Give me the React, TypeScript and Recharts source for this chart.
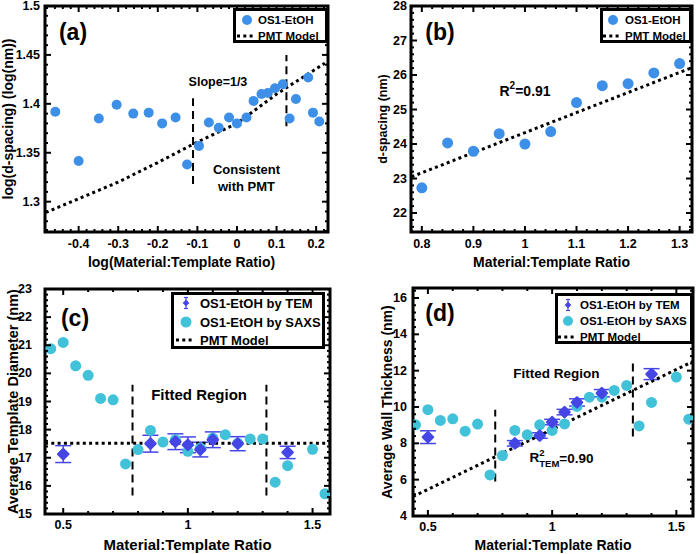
import React from "react";
import {
  ComposedChart,
  Scatter,
  XAxis,
  YAxis,
  ReferenceLine,
  ReferenceArea,
  ReferenceDot,
  ErrorBar,
} from "recharts";

const FONT = '"Liberation Sans", Arial, Helvetica, sans-serif';
const BLUE = "#3d8fe8";
const TEM = "#4646e6";
const SAXS = "#42c2d8";

// (a) log-log plot
const logRatioA = [-0.459, -0.4, -0.349, -0.304, -0.262, -0.223, -0.189, -0.155, -0.126, -0.096, -0.071, -0.046, -0.02, 0, 0.024, 0.042, 0.062, 0.078, 0.096, 0.116, 0.133, 0.149, 0.18, 0.192, 0.208];
const logSpacingA = [1.392, 1.3415, 1.385, 1.399, 1.39, 1.391, 1.38, 1.386, 1.338, 1.357, 1.381, 1.3755, 1.386, 1.38, 1.386, 1.403, 1.41, 1.411, 1.416, 1.42, 1.385, 1.405, 1.427, 1.391, 1.382];
const pmtLogRatioA = [-0.483, -0.4, -0.3, -0.2, -0.1, 0, 0.1, 0.222];
const pmtLogSpacingA = [1.289, 1.303, 1.32, 1.34, 1.361, 1.38, 1.41, 1.4415];
const xTicksA = [-0.4, -0.3, -0.2, -0.1, 0, 0.1, 0.2];
const yTicksA = [1.3, 1.35, 1.4, 1.45, 1.5];

// (b) d-spacing
const ratioB = [0.8, 0.85, 0.9, 0.95, 1.0, 1.05, 1.1, 1.15, 1.2, 1.25, 1.3];
const spacingB = [22.73, 24.03, 23.79, 24.3, 24.0, 24.36, 25.2, 25.69, 25.75, 26.06, 26.33];
const pmtRatioB = [0.78, 1.325];
const pmtSpacingB = [23.05, 26.22];
const xTicksB = [0.8, 0.9, 1, 1.1, 1.2, 1.3];
const yTicksB = [22, 23, 24, 25, 26, 27, 28];

// (c) and (d) share the ratios
const ratioSaxs = [0.45, 0.5, 0.55, 0.6, 0.65, 0.7, 0.75, 0.8, 0.85, 0.9, 0.95, 1.0, 1.05, 1.1, 1.15, 1.2, 1.25, 1.3, 1.35, 1.4, 1.5, 1.55];
const diameterSaxs = [20.88, 21.1, 20.27, 19.93, 19.11, 19.06, 16.78, 17.29, 17.97, 17.56, 17.64, 17.23, 17.35, 17.7, 17.82, 17.52, 17.67, 17.67, 16.13, 16.72, 17.3, 15.72];
const wallSaxs = [9.02, 9.85, 9.26, 9.35, 8.67, 9.06, 6.26, 7.33, 8.71, 8.47, 9.02, 8.71, 9.07, 10.03, 10.54, 10.54, 10.91, 11.19, 8.96, 10.25, 11.65, 9.33];
const ratioTem = [0.5, 0.85, 0.95, 1.0, 1.05, 1.1, 1.2, 1.4];
const diameterTem = [17.13, 17.5, 17.57, 17.46, 17.29, 17.64, 17.5, 17.19];
const diameterTemErr = [0.3, 0.3, 0.28, 0.28, 0.26, 0.28, 0.25, 0.22];
const wallTem = [8.34, 8.0, 8.43, 9.17, 9.72, 10.25, 10.76, 11.81];
const wallTemErr = [0.35, 0.15, 0.15, 0.15, 0.15, 0.2, 0.2, 0.3];
const pmtRatioC = [0.427, 1.57];
const pmtDiameterC = [17.52, 17.52];
const pmtRatioD = [0.44, 1.567];
const pmtWallD = [5.07, 12.51];
const xTicksCD = [0.5, 1, 1.5];
const yTicksC = [15, 16, 17, 18, 19, 20, 21, 22, 23];
const yTicksD = [4, 6, 8, 10, 12, 14, 16];

const zip = (xs: number[], ys: number[], errs?: number[]) =>
  xs.map((x, i) => ({ x, y: ys[i], err: errs ? errs[i] : 0 }));

type Box = { left: number; top: number; right: number; bottom: number };

const W = 350;
const H = 277;

const steps = (lo: number, hi: number, step: number) => {
  const out: number[] = [];
  for (let i = Math.ceil(lo / step - 1e-9); i * step <= hi + 1e-9; i++) out.push(+(i * step).toFixed(4));
  return out;
};
const withMinor = (major: number[], dom: [number, number], step: number) =>
  Array.from(new Set([...steps(dom[0], dom[1], step), ...major].map((v) => +v.toFixed(4)))).sort((a, b) => a - b);
const isMajor = (v: number, major: number[]) => major.some((m) => Math.abs(m - v) < 1e-6);
const fmt = (v: number) => String(+v.toFixed(3));

function XTick({ x, payload, box, major, dy }: any) {
  const v = payload.value;
  const big = isMajor(v, major);
  const len = big ? 6 : 3;
  return (
    <g>
      <line x1={x} x2={x} y1={box.bottom} y2={box.bottom - len} stroke="#000" strokeWidth={2} />
      <line x1={x} x2={x} y1={box.top} y2={box.top + len} stroke="#000" strokeWidth={2} />
      {big && (
        <text x={x} y={box.bottom + dy} textAnchor="middle" dominantBaseline="central" fontFamily={FONT} fontWeight="bold" fontSize={12.5} fill="#000">
          {fmt(v)}
        </text>
      )}
    </g>
  );
}

function YTick({ y, payload, box, major, gap }: any) {
  const v = payload.value;
  const big = isMajor(v, major);
  const len = big ? 6 : 3;
  return (
    <g>
      <line x1={box.left} x2={box.left + len} y1={y} y2={y} stroke="#000" strokeWidth={2} />
      <line x1={box.right} x2={box.right - len} y1={y} y2={y} stroke="#000" strokeWidth={2} />
      {big && (
        <text x={box.left - gap} y={y} textAnchor="end" dominantBaseline="central" fontFamily={FONT} fontWeight="bold" fontSize={12.5} fill="#000">
          {fmt(v)}
        </text>
      )}
    </g>
  );
}

function Anno({ viewBox, text, size }: any) {
  const cx = viewBox.x + viewBox.width / 2;
  const cy = viewBox.y + viewBox.height / 2;
  return (
    <text x={cx} y={cy} textAnchor="middle" dominantBaseline="central" fontFamily={FONT} fontWeight="bold" fontSize={size} fill="#000">
      {text}
    </text>
  );
}

function RSquared({ viewBox, value, sub }: any) {
  const cx = viewBox.x + viewBox.width / 2;
  const cy = viewBox.y + viewBox.height / 2;
  if (sub) {
    return (
      <text x={cx - 33} y={cy} dominantBaseline="central" fontFamily={FONT} fontWeight="bold" fontSize={13.5} fill="#000">
        R
        <tspan dy={-6} fontSize={9.5}>2</tspan>
        <tspan dx={-5.3} dy={11} fontSize={9.5}>{sub}</tspan>
        <tspan dy={-5}>{value}</tspan>
      </text>
    );
  }
  return (
    <text x={cx - 27} y={cy} dominantBaseline="central" fontFamily={FONT} fontWeight="bold" fontSize={14} fill="#000">
      R
      <tspan dy={-6} fontSize={10}>2</tspan>
      <tspan dy={6}>{value}</tspan>
    </text>
  );
}

const dotShape = (r: number, color: string) => (p: any) => <circle cx={p.cx} cy={p.cy} r={r} fill={color} />;
const diamondShape = (s: number, color: string) => (p: any) => (
  <polygon
    points={`${p.cx},${p.cy - s} ${p.cx + s},${p.cy} ${p.cx},${p.cy + s} ${p.cx - s},${p.cy}`}
    fill={color}
    stroke={color}
    strokeWidth={2.5}
    strokeLinejoin="round"
  />
);
const noShape = () => <g />;
const DOTTED = { stroke: "#000", strokeWidth: 3, strokeDasharray: "3 3.3", fill: "none" };

type LegendItem = { label: string; kind: "dot" | "tem" | "line"; color: string };

type PanelProps = {
  left: number;
  top: number;
  box: Box;
  xDomain: [number, number];
  yDomain: [number, number];
  xMajor: number[];
  yMajor: number[];
  xMinor: number;
  yMinor: number;
  xLabelDy: number;
  yLabelGap: number;
  xTitle: string;
  yTitle: string;
  xTitleY: number;
  xTitleShift?: number;
  yTitleX: number;
  xTitleSize: number;
  yTitleSize: number;
  tag: string;
  tagX: number;
  tagY: number;
  legend: { x: number; y: number; w: number; h: number; rows: number[]; markX: number; textX: number; size: number; dotR: number; items: LegendItem[] };
  children: React.ReactNode;
};

function Panel(p: PanelProps) {
  const { box, legend: lg } = p;
  const cx = (box.left + box.right) / 2 + (p.xTitleShift || 0);
  const cy = (box.top + box.bottom) / 2;
  return (
    <div style={{ position: "absolute", left: p.left, top: p.top, width: W, height: H }}>
      <ComposedChart width={W} height={H} margin={{ top: box.top, right: W - box.right, left: 0, bottom: 0 }}>
        <XAxis
          type="number"
          dataKey="x"
          domain={p.xDomain}
          allowDataOverflow
          ticks={withMinor(p.xMajor, p.xDomain, p.xMinor)}
          interval={0}
          height={H - box.bottom}
          axisLine={false}
          tickLine={false}
          tick={(t: any) => <XTick {...t} box={box} major={p.xMajor} dy={p.xLabelDy} />}
        />
        <YAxis
          type="number"
          dataKey="y"
          domain={p.yDomain}
          allowDataOverflow
          ticks={withMinor(p.yMajor, p.yDomain, p.yMinor)}
          interval={0}
          width={box.left}
          axisLine={false}
          tickLine={false}
          tick={(t: any) => <YTick {...t} box={box} major={p.yMajor} gap={p.yLabelGap} />}
        />
        {p.children}
        <ReferenceArea
          x1={p.xDomain[0]}
          x2={p.xDomain[1]}
          y1={p.yDomain[0]}
          y2={p.yDomain[1]}
          fill="none"
          fillOpacity={0}
          stroke="#000"
          strokeWidth={3}
        />
      </ComposedChart>
      <svg width={W} height={H} style={{ position: "absolute", left: 0, top: 0, pointerEvents: "none" }}>
        <text x={cx} y={p.xTitleY} textAnchor="middle" dominantBaseline="central" fontFamily={FONT} fontWeight="bold" fontSize={p.xTitleSize}>
          {p.xTitle}
        </text>
        <text
          x={p.yTitleX}
          y={cy}
          transform={`rotate(-90 ${p.yTitleX} ${cy})`}
          textAnchor="middle"
          dominantBaseline="central"
          fontFamily={FONT}
          fontWeight="bold"
          fontSize={p.yTitleSize}
        >
          {p.yTitle}
        </text>
        <text x={p.tagX} y={p.tagY} textAnchor="middle" dominantBaseline="central" fontFamily={FONT} fontWeight="bold" fontSize={23}>
          {p.tag}
        </text>
        <g transform={`translate(${lg.x} ${lg.y})`}>
          <rect x={1.5} y={1.5} width={lg.w - 3} height={lg.h - 3} fill="#fff" stroke="#000" strokeWidth={3} />
          {lg.items.map((it, i) => {
            const ry = lg.rows[i];
            const mx = lg.markX;
            return (
              <g key={it.label}>
                {it.kind === "dot" && <circle cx={mx} cy={ry} r={lg.dotR} fill={it.color} />}
                {it.kind === "tem" && (
                  <g stroke={it.color} strokeWidth={1.2}>
                    <line x1={mx} x2={mx} y1={ry - 5.5} y2={ry + 5.5} />
                    <line x1={mx - 2} x2={mx + 2} y1={ry - 5.5} y2={ry - 5.5} />
                    <line x1={mx - 2} x2={mx + 2} y1={ry + 5.5} y2={ry + 5.5} />
                    <polygon points={`${mx},${ry - 2.5} ${mx + 2.5},${ry} ${mx},${ry + 2.5} ${mx - 2.5},${ry}`} fill={it.color} />
                  </g>
                )}
                {it.kind === "line" && <line x1={mx - 10} x2={mx + 7} y1={ry} y2={ry} {...DOTTED} />}
                <text x={lg.textX} y={ry} dominantBaseline="central" fontFamily={FONT} fontWeight="bold" fontSize={lg.size}>
                  {it.label}
                </text>
              </g>
            );
          })}
        </g>
      </svg>
    </div>
  );
}

const legendAB: LegendItem[] = [
  { label: "OS1-EtOH", kind: "dot", color: BLUE },
  { label: "PMT Model", kind: "line", color: "#000" },
];
const legendCD: LegendItem[] = [
  { label: "OS1-EtOH by TEM", kind: "tem", color: TEM },
  { label: "OS1-EtOH by SAXS", kind: "dot", color: SAXS },
  { label: "PMT Model", kind: "line", color: "#000" },
];

const dash = { stroke: "#000", strokeWidth: 2, strokeDasharray: "8 5" };

export default function App() {
  return (
    <div style={{ position: "absolute", left: 0, top: 0, width: 700, height: 554, background: "#fff" }}>
      <Panel
        left={0}
        top={0}
        box={{ left: 45, top: 6, right: 328, bottom: 232 }}
        xDomain={[-0.485, 0.23]}
        yDomain={[1.269, 1.5]}
        xMajor={xTicksA}
        yMajor={yTicksA}
        xMinor={0.02}
        yMinor={0.01}
        xLabelDy={12}
        yLabelGap={5}
        xTitle="log(Material:Template Ratio)"
        yTitle="log(d-spacing)  (log(nm))"
        xTitleY={262}
        xTitleShift={-5}
        yTitleX={8}
        xTitleSize={14}
        yTitleSize={14}
        tag="(a)"
        tagX={73}
        tagY={32}
        legend={{ x: 233, y: 8, w: 95, h: 35, rows: [12, 28], markX: 14, textX: 25, size: 11.5, dotR: 5, items: legendAB }}
      >
        <Scatter data={zip(pmtLogRatioA, pmtLogSpacingA)} dataKey="y" fill="#000" line={DOTTED} shape={noShape} isAnimationActive={false} />
        <Scatter data={zip(logRatioA, logSpacingA)} dataKey="y" fill={BLUE} shape={dotShape(5, BLUE)} isAnimationActive={false} />
        <ReferenceLine segment={[{ x: -0.111, y: 1.318 }, { x: -0.111, y: 1.4058 }]} {...dash} />
        <ReferenceLine segment={[{ x: 0.125, y: 1.377 }, { x: 0.125, y: 1.45 }]} {...dash} />
        <ReferenceDot x={-0.048} y={1.4228} r={0} fill="none" stroke="none" label={<Anno text="Slope=1/3" size={12.5} />} />
        <ReferenceDot x={0.024} y={1.333} r={0} fill="none" stroke="none" label={<Anno text="Consistent" size={13} />} />
        <ReferenceDot x={0.024} y={1.315} r={0} fill="none" stroke="none" label={<Anno text="with PMT" size={13} />} />
      </Panel>

      <Panel
        left={350}
        top={0}
        box={{ left: 61, top: 6, right: 342, bottom: 232 }}
        xDomain={[0.779, 1.324]}
        yDomain={[21.45, 28]}
        xMajor={xTicksB}
        yMajor={yTicksB}
        xMinor={0.02}
        yMinor={0.2}
        xLabelDy={12}
        yLabelGap={4}
        xTitle="Material:Template Ratio"
        yTitle="d-spacing (nm)"
        xTitleY={262}
        yTitleX={33}
        xTitleSize={14}
        yTitleSize={12.5}
        tag="(b)"
        tagX={90}
        tagY={32}
        legend={{ x: 250, y: 8, w: 92, h: 35, rows: [12, 28], markX: 13, textX: 25, size: 11.5, dotR: 5, items: legendAB }}
      >
        <Scatter data={zip(pmtRatioB, pmtSpacingB)} dataKey="y" fill="#000" line={DOTTED} shape={noShape} isAnimationActive={false} />
        <Scatter data={zip(ratioB, spacingB)} dataKey="y" fill={BLUE} shape={dotShape(5.5, BLUE)} isAnimationActive={false} />
        <ReferenceDot x={1.003} y={25.53} r={0} fill="none" stroke="none" label={<RSquared value="=0.91" />} />
      </Panel>

      <Panel
        left={0}
        top={277}
        box={{ left: 45, top: 12, right: 330, bottom: 237 }}
        xDomain={[0.427, 1.57]}
        yDomain={[15, 23]}
        xMajor={xTicksCD}
        yMajor={yTicksC}
        xMinor={0.1}
        yMinor={0.2}
        xLabelDy={11}
        yLabelGap={13}
        xTitle="Material:Template Ratio"
        yTitle="Average Template Diameter (nm)"
        xTitleY={267}
        yTitleX={13}
        xTitleSize={15}
        yTitleSize={14.5}
        tag="(c)"
        tagX={75}
        tagY={41}
        legend={{ x: 171, y: 15, w: 154, h: 57, rows: [11, 30, 48], markX: 15, textX: 29, size: 13, dotR: 5.5, items: legendCD }}
      >
        <Scatter data={zip(pmtRatioC, pmtDiameterC)} dataKey="y" fill="#000" line={DOTTED} shape={noShape} isAnimationActive={false} />
        <Scatter data={zip(ratioSaxs, diameterSaxs)} dataKey="y" fill={SAXS} shape={dotShape(5.5, SAXS)} isAnimationActive={false} />
        <Scatter data={zip(ratioTem, diameterTem, diameterTemErr)} dataKey="y" fill={TEM} shape={diamondShape(5, TEM)} isAnimationActive={false}>
          <ErrorBar dataKey="err" direction="y" width={8} stroke={TEM} strokeWidth={1.5} />
        </Scatter>
        <ReferenceLine segment={[{ x: 0.778, y: 15.66 }, { x: 0.778, y: 19.6 }]} {...dash} />
        <ReferenceLine segment={[{ x: 1.315, y: 15.66 }, { x: 1.315, y: 19.6 }]} {...dash} />
        <ReferenceDot x={1.045} y={19.24} r={0} fill="none" stroke="none" label={<Anno text="Fitted Region" size={15} />} />
      </Panel>

      <Panel
        left={350}
        top={277}
        box={{ left: 63, top: 11, right: 343, bottom: 239 }}
        xDomain={[0.44, 1.567]}
        yDomain={[4, 16.55]}
        xMajor={xTicksCD}
        yMajor={yTicksD}
        xMinor={0.1}
        yMinor={0.4}
        xLabelDy={11}
        yLabelGap={6}
        xTitle="Material:Template Ratio"
        yTitle="Average Wall Thickness (nm)"
        xTitleY={268}
        yTitleX={37}
        xTitleSize={14}
        yTitleSize={14}
        tag="(d)"
        tagX={90}
        tagY={36}
        legend={{ x: 205, y: 16, w: 138, h: 51, rows: [12, 28, 44], markX: 13, textX: 25, size: 11.5, dotR: 5, items: legendCD }}
      >
        <Scatter data={zip(pmtRatioD, pmtWallD)} dataKey="y" fill="#000" line={DOTTED} shape={noShape} isAnimationActive={false} />
        <Scatter data={zip(ratioSaxs, wallSaxs)} dataKey="y" fill={SAXS} shape={dotShape(5.5, SAXS)} isAnimationActive={false} />
        <Scatter data={zip(ratioTem, wallTem, wallTemErr)} dataKey="y" fill={TEM} shape={diamondShape(5, TEM)} isAnimationActive={false}>
          <ErrorBar dataKey="err" direction="y" width={8} stroke={TEM} strokeWidth={1.5} />
        </Scatter>
        <ReferenceLine segment={[{ x: 0.771, y: 5.9 }, { x: 0.771, y: 9.85 }]} {...dash} />
        <ReferenceLine segment={[{ x: 1.325, y: 8.37 }, { x: 1.325, y: 12.46 }]} {...dash} />
        <ReferenceDot x={1.017} y={11.83} r={0} fill="none" stroke="none" label={<Anno text="Fitted Region" size={13.5} />} />
        <ReferenceDot x={1.042} y={7.2} r={0} fill="none" stroke="none" label={<RSquared value="=0.90" sub="TEM" />} />
      </Panel>
    </div>
  );
}
